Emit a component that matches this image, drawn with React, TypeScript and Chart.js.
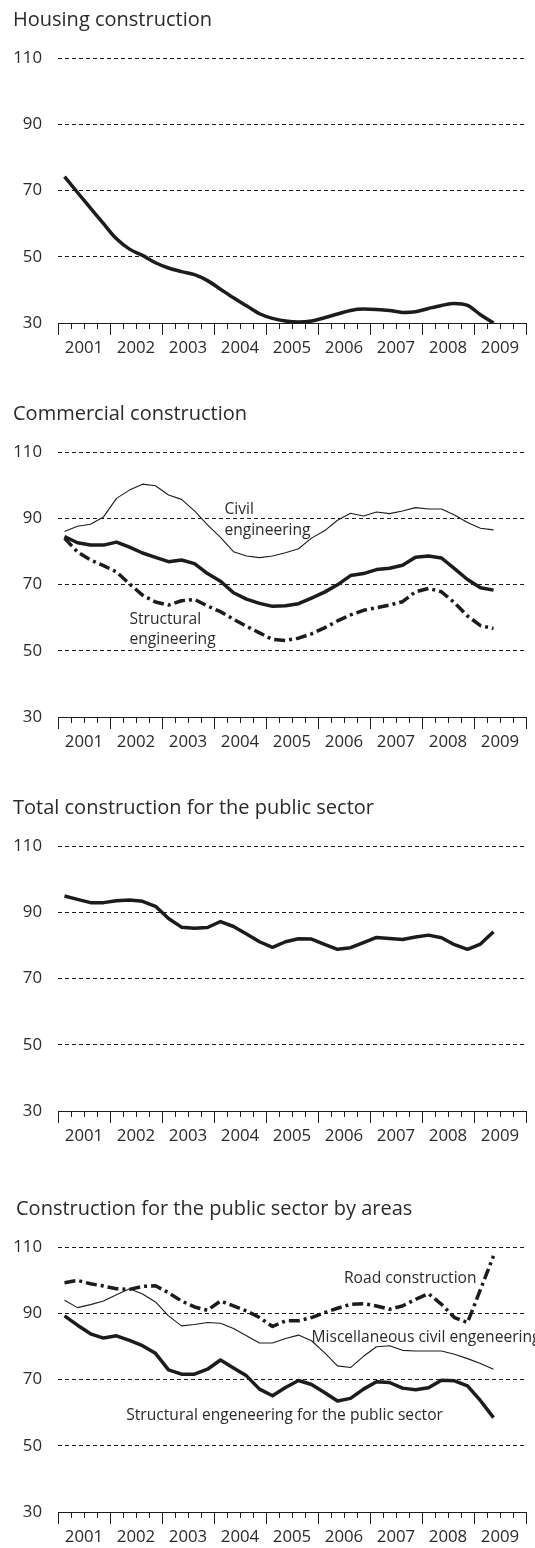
import React, { useEffect, useRef } from 'react';
import { Chart, registerables } from 'chart.js';

Chart.register(...registerables);

// ---------- data ----------
const YEARS = ['2001', '2002', '2003', '2004', '2005', '2006', '2007', '2008', '2009'];
// quarterly observations 2001 Q1 .. 2009 Q2
const QUARTERS = YEARS.flatMap((y) => ['Q1', 'Q2', 'Q3', 'Q4'].map((q) => `${y} ${q}`)).slice(0, 34);
const Y_TICKS = [30, 50, 70, 90, 110];

const HOUSING = [
  74.2, 69.4, 64.7, 60.0, 55.4, 52.3, 50.4, 48.2, 46.6, 45.5, 44.6, 42.8, 40.2, 37.6, 35.2, 32.8, 31.4,
  30.6, 30.3, 30.6, 31.6, 32.7, 33.8, 34.2, 34.1, 33.8, 33.2, 33.4, 34.4, 35.3, 35.9, 35.3, 32.5, 30.0,
];

const COMMERCIAL_TOTAL = [
  84.5, 82.6, 81.9, 81.9, 82.8, 81.3, 79.5, 78.2, 76.9, 77.4, 76.3, 73.3, 71.0, 67.5, 65.6, 64.3, 63.4,
  63.6, 64.2, 65.9, 67.7, 69.9, 72.7, 73.3, 74.5, 74.9, 75.8, 78.2, 78.6, 78.0, 74.8, 71.5, 69.0, 68.3,
];

const COMMERCIAL_CIVIL = [
  86.0, 87.6, 88.2, 90.4, 96.0, 98.5, 100.3, 99.8, 97.0, 95.7, 92.2, 88.0, 84.2, 79.9, 78.6, 78.1, 78.6,
  79.6, 80.8, 84.0, 86.2, 89.4, 91.5, 90.7, 91.9, 91.4, 92.2, 93.2, 92.8, 92.8, 91.0, 88.7, 87.0, 86.5,
];

const COMMERCIAL_STRUCTURAL = [
  84.0, 79.8, 77.4, 75.7, 73.8, 70.2, 66.8, 64.7, 63.8, 65.1, 65.5, 63.5, 61.8, 59.5, 57.4, 55.4, 53.4,
  53.1, 53.8, 55.1, 56.9, 59.0, 60.8, 62.2, 63.0, 63.8, 64.8, 67.8, 68.8, 67.8, 64.5, 60.5, 57.6, 56.7,
];

const PUBLIC_TOTAL = [
  94.9, 93.9, 92.9, 92.9, 93.5, 93.7, 93.3, 91.8, 88.1, 85.5, 85.2, 85.4, 87.2, 85.7, 83.4, 81.1, 79.4,
  81.1, 82.0, 81.9, 80.3, 78.8, 79.3, 80.8, 82.4, 82.1, 81.8, 82.5, 83.1, 82.3, 80.2, 78.8, 80.4, 84.1,
];

const PUBLIC_ROAD = [
  99.2, 99.9, 98.9, 98.2, 97.4, 97.2, 98.1, 98.3, 96.2, 93.7, 91.9, 90.9, 93.7, 92.2, 90.7, 88.7, 86.0,
  87.7, 87.7, 88.7, 90.2, 91.5, 92.7, 92.9, 92.2, 91.2, 92.2, 94.2, 95.9, 92.7, 88.7, 87.2, 97.2, 107.3,
];

const PUBLIC_MISC_CIVIL = [
  93.9, 91.7, 92.6, 93.7, 95.6, 97.4, 95.8, 93.4, 89.2, 86.2, 86.6, 87.2, 87.0, 85.4, 83.2, 81.0, 81.0,
  82.4, 83.4, 81.7, 78.1, 74.1, 73.6, 77.0, 79.9, 80.2, 78.8, 78.6, 78.6, 78.6, 77.6, 76.3, 74.8, 73.1,
];

const PUBLIC_STRUCTURAL = [
  89.2, 86.4, 83.8, 82.5, 83.2, 81.8, 80.2, 77.9, 72.9, 71.6, 71.6, 73.1, 75.9, 73.5, 71.1, 67.1, 65.1,
  67.6, 69.7, 68.5, 66.1, 63.5, 64.3, 67.1, 69.3, 69.1, 67.4, 66.9, 67.5, 69.8, 69.6, 68.1, 63.6, 58.5,
];

// ---------- styles ----------
const INK = '#1c1c1c';
const TEXT = '#2a2a2a';
const FONT = "'Open Sans', 'DejaVu Sans', sans-serif";

type LineStyle = 'thick' | 'thin' | 'dashdot';
const STYLE: Record<LineStyle, any> = {
  thick: { borderWidth: 3.5, borderDash: [] },
  thin: { borderWidth: 1.1, borderDash: [] },
  dashdot: { borderWidth: 3.5, borderDash: [11, 4, 3, 4] },
};

interface SeriesCfg { name: string; values: number[]; style: LineStyle; smooth?: boolean }
interface LabelCfg { text: string; x: number; y: number }
interface PanelCfg { title: string; titleX: number; top: number; series: SeriesCfg[]; labels: LabelCfg[] }

const PAD_TOP = 55;
const AREA_H = 265;
const AXIS_H = 45;
const CANVAS_H = PAD_TOP + AREA_H + AXIS_H;
const W = 535;

const PANELS: PanelCfg[] = [
  {
    title: 'Housing construction',
    titleX: 13,
    top: 3,
    series: [{ name: 'Housing construction', values: HOUSING, style: 'thick', smooth: true }],
    labels: [],
  },
  {
    title: 'Commercial construction',
    titleX: 13,
    top: 397,
    series: [
      { name: 'Civil engineering', values: COMMERCIAL_CIVIL, style: 'thin' },
      { name: 'Commercial construction', values: COMMERCIAL_TOTAL, style: 'thick' },
      { name: 'Structural engineering', values: COMMERCIAL_STRUCTURAL, style: 'dashdot' },
    ],
    labels: [
      { text: 'Civil', x: 12.8, y: 91.4 },
      { text: 'engineering', x: 12.8, y: 84.9 },
      { text: 'Structural', x: 5.5, y: 58.1 },
      { text: 'engineering', x: 5.5, y: 51.9 },
    ],
  },
  {
    title: 'Total construction for the public sector',
    titleX: 13,
    top: 791,
    series: [{ name: 'Total construction for the public sector', values: PUBLIC_TOTAL, style: 'thick' }],
    labels: [],
  },
  {
    title: 'Construction for the public sector by areas',
    titleX: 16,
    top: 1192,
    series: [
      { name: 'Miscellaneous civil engeneering', values: PUBLIC_MISC_CIVIL, style: 'thin' },
      { name: 'Structural engeneering for the public sector', values: PUBLIC_STRUCTURAL, style: 'thick' },
      { name: 'Road construction', values: PUBLIC_ROAD, style: 'dashdot' },
    ],
    labels: [
      { text: 'Road construction', x: 22.0, y: 99.0 },
      { text: 'Miscellaneous civil engeneering', x: 19.5, y: 81.3 },
      { text: 'Structural engeneering for the public sector', x: 5.25, y: 57.9 },
    ],
  },
];

const decorPlugin = {
  id: 'panelDecor',
  afterDraw(chart: any, _args: any, opts: any) {
    const { ctx } = chart;
    const xs = chart.scales.x;
    const ys = chart.scales.y;
    ctx.save();
    // major (year) ticks
    ctx.strokeStyle = INK;
    ctx.lineWidth = 1;
    ctx.beginPath();
    for (let v = 0; v <= 36; v += 4) {
      const px = Math.min(Math.round(xs.getPixelForValue(v)) + 0.5, W - 0.5);
      ctx.moveTo(px, xs.top);
      ctx.lineTo(px, xs.top + 12);
    }
    ctx.stroke();
    // title
    ctx.fillStyle = TEXT;
    ctx.textBaseline = 'alphabetic';
    ctx.textAlign = 'left';
    ctx.font = `20px ${FONT}`;
    ctx.fillText(opts.title, opts.titleX, PAD_TOP - 32);
    // in-chart labels
    ctx.font = `15.6px ${FONT}`;
    for (const l of opts.labels as LabelCfg[]) {
      ctx.fillText(l.text, xs.getPixelForValue(l.x), ys.getPixelForValue(l.y));
    }
    ctx.restore();
  },
};

function Panel({ cfg }: { cfg: PanelCfg }) {
  const ref = useRef<HTMLCanvasElement>(null);
  useEffect(() => {
    const canvas = ref.current!;
    const chart = new Chart(canvas, {
      type: 'line',
      data: {
        labels: QUARTERS,
        datasets: cfg.series.map((s) => ({
          label: s.name,
          data: s.values.map((v, i) => ({ x: i + 0.5, y: v })),
          borderColor: INK,
          backgroundColor: INK,
          borderWidth: STYLE[s.style].borderWidth,
          borderDash: STYLE[s.style].borderDash,
          borderCapStyle: 'butt',
          borderJoinStyle: 'round',
          pointRadius: 0,
          tension: 0,
          cubicInterpolationMode: s.smooth ? 'monotone' : 'default',
          fill: false,
        })),
      },
      options: {
        responsive: false,
        animation: false,
        devicePixelRatio: 1,
        layout: { padding: { top: PAD_TOP, left: 0, right: 0, bottom: 0 } },
        plugins: {
          legend: { display: false },
          tooltip: { enabled: false },
          panelDecor: { title: cfg.title, titleX: cfg.titleX, labels: cfg.labels },
        } as any,
        scales: {
          x: {
            type: 'linear',
            min: 0,
            max: 36,
            afterBuildTicks: (s: any) => {
              s.ticks = Array.from({ length: 37 }, (_, v) => ({ value: v }));
            },
            afterFit: (s: any) => {
              s.height = AXIS_H;
            },
            ticks: {
              autoSkip: false,
              maxRotation: 0,
              minRotation: 0,
              padding: 9,
              color: TEXT,
              font: { family: FONT, size: 16.8 },
              callback: (v: any) => (v % 4 === 2 ? YEARS[(v - 2) / 4] : ''),
            },
            grid: {
              drawOnChartArea: false,
              drawTicks: true,
              tickLength: 6,
              color: INK,
              lineWidth: 1,
            },
            border: { display: true, color: INK, width: 1 },
          },
          y: {
            min: 30,
            max: 110,
            afterBuildTicks: (s: any) => {
              s.ticks = Y_TICKS.map((v) => ({ value: v }));
            },
            afterFit: (s: any) => {
              s.width = 58;
            },
            ticks: {
              padding: 16,
              color: TEXT,
              font: { family: FONT, size: 16.8 },
            },
            grid: {
              drawTicks: false,
              lineWidth: 1,
              color: (c: any) => (c.tick && c.tick.value === 30 ? 'rgba(0,0,0,0)' : INK),
            },
            border: { display: false, dash: [4, 3] },
          },
        },
      } as any,
      plugins: [decorPlugin],
    });
    return () => chart.destroy();
  }, [cfg]);
  return (
    <canvas
      ref={ref}
      width={W}
      height={CANVAS_H}
      style={{ position: 'absolute', left: 0, top: cfg.top, width: W, height: CANVAS_H, display: 'block' }}
    />
  );
}

export default function App() {
  return (
    <div style={{ position: 'absolute', left: 0, top: 0, width: W, height: 1548, background: '#fff', overflow: 'hidden' }}>
      {PANELS.map((p) => (
        <Panel key={p.title} cfg={p} />
      ))}
    </div>
  );
}
